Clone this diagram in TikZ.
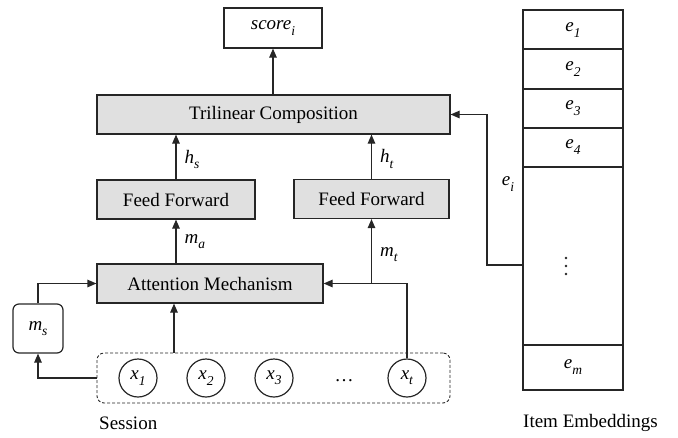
\documentclass[tikz,border=0pt]{standalone}
\usepackage{fontspec}
\setmainfont{Liberation Serif}
\usetikzlibrary{arrows.meta}
\definecolor{boxgray}{HTML}{E0E0E0}
% italic symbol with italic subscript, set in the text font
\newcommand\symb[2]{\textit{#1}\raisebox{-0.28em}{\fontsize{13.5}{15}\selectfont\textit{#2}}}
\tikzset{
  base/.style={line width=1.2pt, draw=black!85},
  txt/.style={font=\fontsize{19}{23}\selectfont},
  graybox/.style={base, txt, fill=boxgray, minimum height=39pt, inner sep=0pt},
  whitebox/.style={base, txt, fill=white, inner sep=0pt},
  token/.style={base, txt, circle, minimum size=38pt, inner sep=0pt},
  lbl/.style={txt, inner sep=0pt},
  conn/.style={base, -{Triangle[length=9pt,width=7.5pt]}},
  vdot/.style={fill=black!85, circle, inner sep=0pt, minimum size=2.6pt}
}
\begin{document}
\begin{tikzpicture}[x=1pt,y=-1pt]
\useasboundingbox (0,0) rectangle (678,437);

% model boxes
\node[whitebox, minimum width=98pt, minimum height=40pt] (score) at (273,28) {\symb{score}{i}};
\node[graybox, minimum width=353pt] (tri) at (273.5,114.5) {Trilinear Composition};
\node[graybox, minimum width=158pt] (ffs) at (176,199.5) {Feed Forward};
\node[graybox, minimum width=155pt] (fft) at (371.5,199) {Feed Forward};
\node[graybox, minimum width=226pt] (att) at (210,283.5) {Attention Mechanism};
\node[base, txt, rounded corners=6pt, minimum width=50pt, minimum height=49pt, inner sep=0pt] (ms) at (38,328.5) {\symb{m}{s}};

% session
\node[base, line width=0.9pt, dash pattern=on 3pt off 2pt, rounded corners=7pt, minimum width=353pt, minimum height=50pt] (sess) at (273.5,378) {};
\node[token] (x1) at (138,378) {\symb{x}{1}};
\node[token] (x2) at (206,378) {\symb{x}{2}};
\node[token] (x3) at (274,378) {\symb{x}{3}};
\node[lbl] (dots) at (344,381) {\dots};
\node[token] (xt) at (407,378) {\symb{x}{t}};
\node[lbl, anchor=west] (sesslbl) at (99,423) {Session};

% item embeddings table
\draw[base] (523,10) rectangle (623,390);
\foreach \yy in {49,89,128,167,345} \draw[base] (523,\yy) -- (623,\yy);
\node[lbl] (e1) at (573,30) {\symb{e}{1}};
\node[lbl] (e2) at (573,69) {\symb{e}{2}};
\node[lbl] (e3) at (573,108) {\symb{e}{3}};
\node[lbl] (e4) at (573,147) {\symb{e}{4}};
\foreach \yy in {258,266,274} \node[vdot] at (566,\yy) {};
\node[lbl] (em) at (573,367) {\symb{e}{m}};
\coordinate (eout) at (523,265);
\coordinate (ebend) at (487,265);
\node[lbl, anchor=west] (emblbl) at (523,423) {Item Embeddings};

% connectors
\draw[conn] (tri.north -| score) -- (score.south);
\draw[conn] (ffs.north) -- (ffs.north |- tri.south) node[lbl, pos=0.45, right=8pt] {\symb{h}{s}};
\draw[conn] (fft.north) -- (fft.north |- tri.south) node[lbl, pos=0.45, right=8pt] {\symb{h}{t}};
\draw[conn] (att.north -| ffs) -- (ffs.south) node[lbl, pos=0.5, right=8pt] {\symb{m}{a}};
\draw[conn] (xt.north) |- (att.east);
\coordinate (mtj) at (fft.south |- att.east);
\draw[conn] (mtj) -- (fft.south) node[lbl, pos=0.45, right=8pt] {\symb{m}{t}};
\draw[conn] (ms.north) |- (att.west);
\draw[conn] (sess.west) -| (ms.south);
\draw[conn] (sess.north -| 174,0) -- (att.south -| 174,0);
\draw[conn] (eout) -- (ebend) |- (tri.east);
\node[lbl] (eilbl) at (508,184) {\symb{e}{i}};
\end{tikzpicture}
\end{document}
